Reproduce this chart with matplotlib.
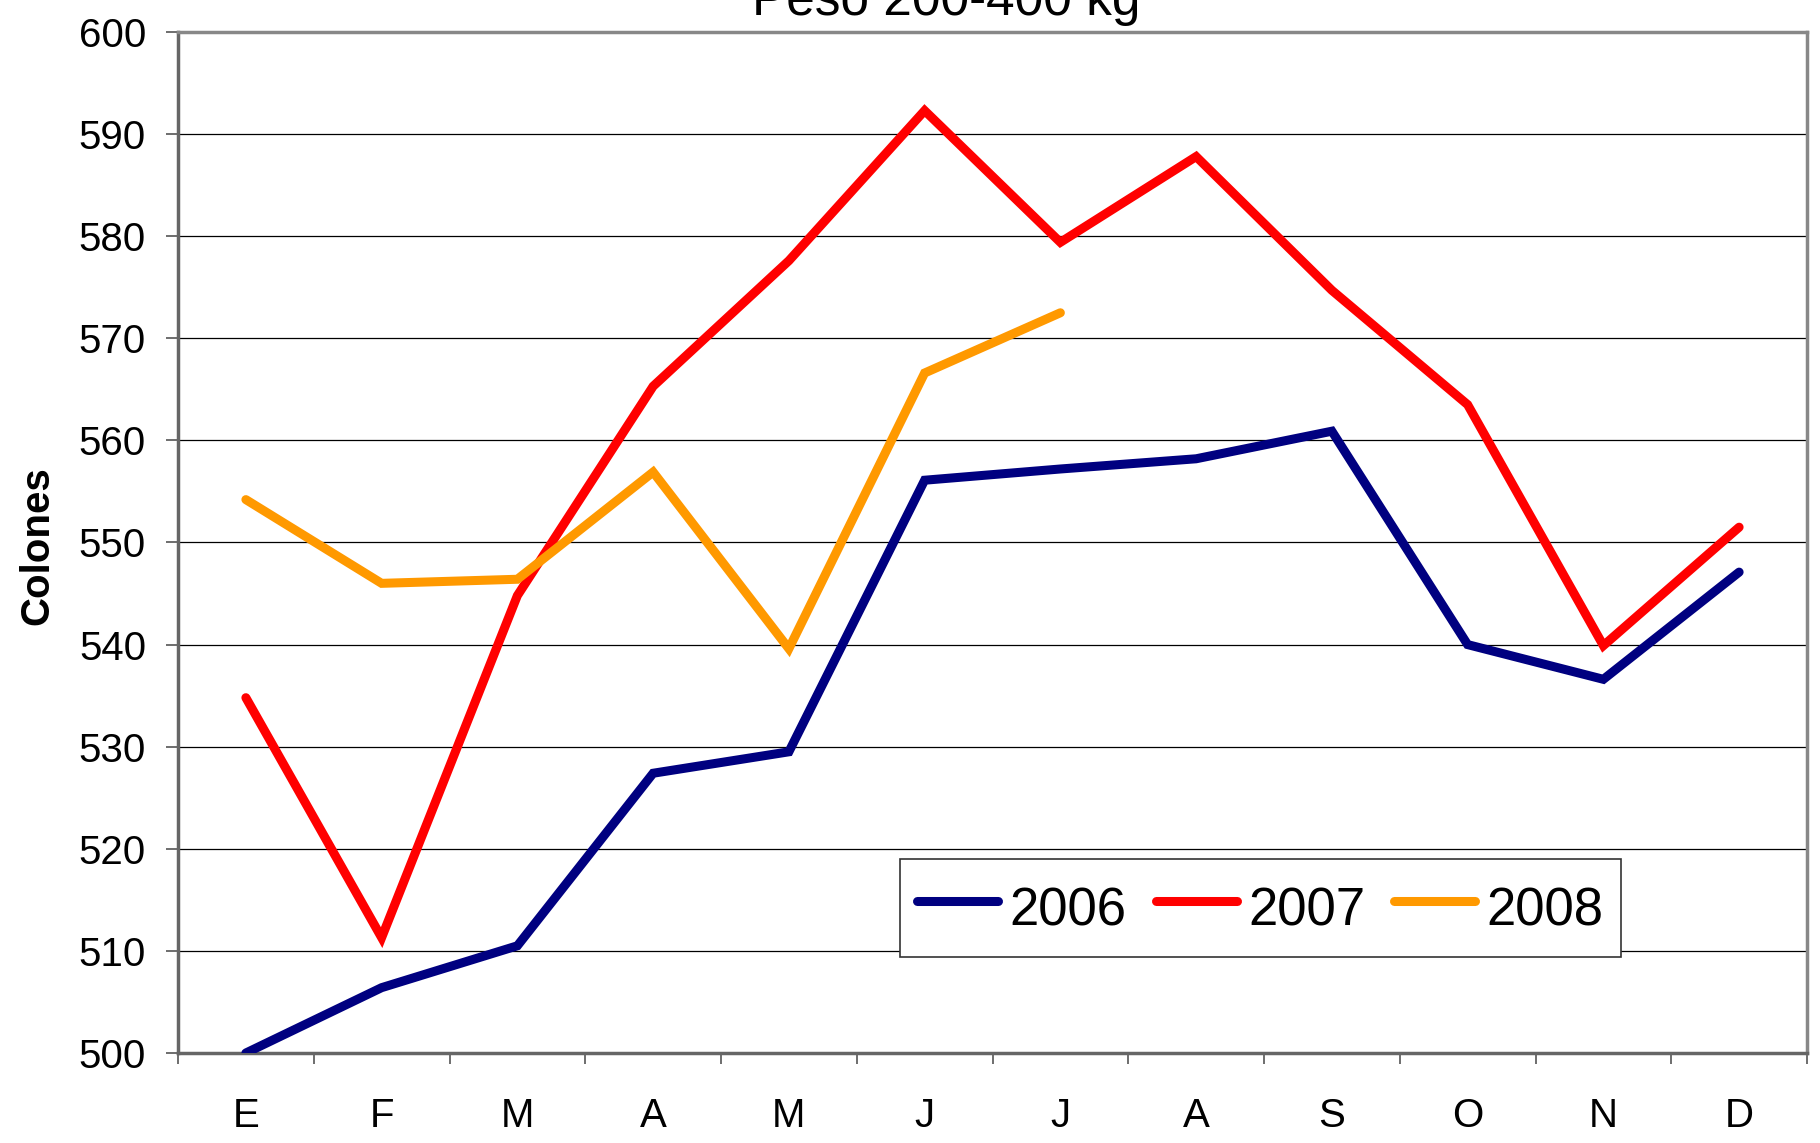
import matplotlib
matplotlib.use("Agg")
import matplotlib.pyplot as plt
from matplotlib.ticker import FixedLocator, NullFormatter

months = ["E", "F", "M", "A", "M", "J", "J", "A", "S", "O", "N", "D"]
v2006 = [500.0, 506.4, 510.5, 527.4, 529.5, 556.1, 557.2, 558.2, 560.9, 540.0, 536.6, 547.1]
v2007 = [534.8, 511.3, 544.8, 565.3, 577.6, 592.3, 579.4, 587.8, 574.7, 563.5, 539.9, 551.5]
v2008 = [554.2, 546.0, 546.4, 556.9, 539.6, 566.6, 572.5]
series_names = ["2006", "2007", "2008"]
colors = ["#000080", "#FF0000", "#FF9900"]
yticks = [500, 510, 520, 530, 540, 550, 560, 570, 580, 590, 600]
title = "Peso 200-400 kg"
ylabel = "Colones"

plt.rcParams['font.family'] = ['Liberation Sans', 'DejaVu Sans']

W, H = 1820, 1143
fig = plt.figure(figsize=(W / 100, H / 100), dpi=100)
L, R, T, B = 178, 1807, 32, 1053
ax = fig.add_axes([L / W, 1 - B / H, (R - L) / W, (B - T) / H])

x = list(range(len(months)))
for vals, name, c in zip([v2006, v2007, v2008], series_names, colors):
    ax.plot(x[:len(vals)], vals, color=c, lw=6.5, label=name,
            solid_capstyle='round', solid_joinstyle='miter', zorder=3)

ax.set_xlim(-0.5, len(months) - 0.5)
ax.set_ylim(500, 600)
ax.set_yticks(yticks)
ax.set_yticklabels([str(t) for t in yticks])
ax.yaxis.grid(True, color='#000000', lw=0.9)
ax.set_axisbelow(True)

ax.set_xticks(x)
ax.set_xticklabels(months)
ax.xaxis.set_minor_locator(FixedLocator([i - 0.5 for i in range(len(months) + 1)]))
ax.xaxis.set_minor_formatter(NullFormatter())
ax.tick_params(axis='x', which='major', length=0, pad=32, labelsize=29)
ax.tick_params(axis='x', which='minor', length=8, width=1.2, color='#555555', direction='out')
ax.tick_params(axis='y', length=9, width=1.2, color='#555555', pad=14, labelsize=29)

for s in ['left', 'bottom']:
    ax.spines[s].set_color('#666666')
    ax.spines[s].set_linewidth(2.5)
for s in ['top', 'right']:
    ax.spines[s].set_color('#888888')
    ax.spines[s].set_linewidth(2.5)

fig.text(946 / W, 1 - 15 / H, title, ha='center', va='baseline', fontsize=37)
fig.text(37 / W, 1 - 546 / H, ylabel, rotation=90, ha='center', va='center',
         fontsize=29, fontweight='bold')

leg = ax.legend(loc='upper left', bbox_to_anchor=(900 / W, 1 - 859 / H),
                bbox_transform=fig.transFigure, ncol=3, frameon=True,
                fancybox=False, handlelength=1.53, handletextpad=0.22,
                columnspacing=0.55, borderpad=0.33, borderaxespad=0,
                handleheight=1.45, prop={'size': 38})
leg.get_frame().set_edgecolor('#333333')
leg.get_frame().set_linewidth(1.2)
leg.get_frame().set_alpha(1)
for h in leg.get_lines():
    h.set_linewidth(6.5)

fig.savefig("out.png", dpi=100)
